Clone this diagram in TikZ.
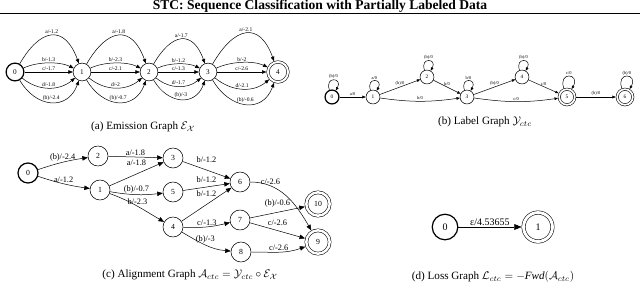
\documentclass[tikz,border=0pt]{standalone}
\usepackage{fontspec}
\setmainfont{Liberation Serif}
\usetikzlibrary{arrows.meta}
\usepackage{amsmath,amssymb}

\begin{document}
\begin{tikzpicture}[
  x=0.9pt, y=-0.9pt,
  vtx/.style={circle, draw, line width=0.5pt, inner sep=0pt, minimum size=#1},
  initv/.style={line width=1.1pt},
  accv/.style={double, line width=0.5pt, double distance=#1, outer sep=0.5*#1+0.5pt},
  arr/.style={-{Triangle[length=#1, width'=0pt 0.8]}, line width=0.45pt},
  lbl/.style={above, inner sep=1pt},
  la/.style={font=\fontsize{5}{6}\selectfont},
  fa/.style={font=\fontsize{6.5}{7}\selectfont},
  lb/.style={font=\fontsize{4}{4.5}\selectfont},
  fb/.style={font=\fontsize{4.8}{5}\selectfont},
  lc/.style={font=\fontsize{7.5}{9}\selectfont},
  fc/.style={font=\fontsize{7}{8}\selectfont},
  fd/.style={font=\fontsize{9}{10}\selectfont},
  captxt/.style={font=\fontsize{10}{12}\selectfont}
]
  \useasboundingbox (0,0) rectangle (640,283);

  % Running title
  \node[font=\bfseries\fontsize{12.2}{14}\selectfont, anchor=base, inner sep=0pt] (title) at (320,9.8) {STC: Sequence Classification with Partially Labeled Data};
  \draw[line width=1pt] (0,13.5) -- (640,13.5);

  % (a) Emission graph
  \node[vtx=16pt, initv, fa] (e0) at (15,72) {0};
  \foreach \i/\x in {1/82,2/149,3/208} {
    \node[vtx=16pt, fa] (e\i) at (\x,72) {\i};
  }
  \node[vtx=18pt, accv=1.8pt, fa] (e4) at (278,72) {4};
  \foreach \s/\t/\wA/\wB/\wC/\wD/\wE in {0/1/-1.2/-1.3/-1.7/-1.8/-2.4, 1/2/-1.8/-2.3/-2.1/-2/-0.7,
      2/3/-1.7/-1.2/-1.3/-1.7/-3, 3/4/-2.1/-2/-2.6/-2.1/-0.6} {
    \draw[arr=4pt] (e\s) to[out=60, in=110, looseness=1.8] node[lbl, la] {a/\wA} (e\t);
    \draw[arr=4pt] (e\s) to[out=25, in=155, looseness=0.8] node[lbl, la] {b/\wB} (e\t);
    \draw[arr=4pt] (e\s) -- node[lbl, la] {c/\wC} (e\t);
    \draw[arr=4pt] (e\s) to[out=-40, in=-140] node[lbl, la] {d/\wD} (e\t);
    \draw[arr=4pt] (e\s) to[out=-60, in=-110, looseness=1.4] node[lbl, la] {(b)/\wE} (e\t);
  }
  \node[captxt] (capa) at (143,127) {(a) Emission Graph $\mathcal{E}_{\mathcal{X}}$};

  % (b) Label graph
  \node[vtx=12.5pt, initv, fb] (l0) at (332,97) {0};
  \foreach \i/\x/\y in {1/373/97, 2/427/77, 3/467/97, 4/522/77} {
    \node[vtx=12.5pt, fb] (l\i) at (\x,\y) {\i};
  }
  \foreach \i/\x in {5/567, 6/625} {
    \node[vtx=14pt, accv=1.6pt, fb] (l\i) at (\x,97) {\i};
  }
  \foreach \i/\w in {0/(b), 1/a, 2/(b), 3/b, 4/(b), 5/c, 6/(b)} {
    \draw[arr=3pt] (l\i) to[out=110, in=60, looseness=6] node[lbl, lb] {\w/0} (l\i);
  }
  \draw[arr=3pt] (l0) -- node[lbl, lb] {a/0} (l1);
  \draw[arr=3pt] (l1) -- node[lbl, lb] {(b)/0} (l2);
  \draw[arr=3pt] (l1) to[out=-8, in=-172] node[lbl, lb] {b/0} (l3);
  \draw[arr=3pt] (l2) -- node[lbl, lb] {b/0} (l3);
  \draw[arr=3pt] (l3) -- node[lbl, lb] {(b)/0} (l4);
  \draw[arr=3pt] (l3) to[out=-8, in=-172] node[lbl, lb] {c/0} (l5);
  \draw[arr=3pt] (l4) -- node[lbl, lb] {c/0} (l5);
  \draw[arr=3pt] (l5) -- node[lbl, lb] {(b)/0} (l6);
  \node[captxt] (capb) at (485,122) {(b) Label Graph $\mathcal{Y}_{ctc}$};

  % (c) Alignment graph
  \node[vtx=18pt, initv, fc] (c0) at (28,173) {0};
  \foreach \i/\x/\y in {1/100/190, 2/98/156, 3/173/158, 4/173/227, 5/173/192,
      6/240/182, 7/240/220, 8/241/252} {
    \node[vtx=18pt, fc] (c\i) at (\x,\y) {\i};
  }
  \foreach \i/\y in {9/242, 10/204} {
    \node[vtx=21pt, accv=2.2pt, fc] (c\i) at (318,\y) {\i};
  }
  \draw[arr=5pt] (c0) to[bend left=5] node[lbl, lc] {(b)/-2.4} (c2);
  \draw[arr=5pt] (c0) to[bend right=5] node[lbl, lc] {a/-1.2} (c1);
  \draw[arr=5pt] (c2) -- node[lbl, lc] {a/-1.8} (c3);
  \draw[arr=5pt] (c1) -- node[lbl, lc, above=6pt] {a/-1.8} (c3);
  \draw[arr=5pt] (c1) to[bend right=8] node[lbl, lc] {(b)/-0.7} (c5);
  \draw[arr=5pt] (c1) to[out=-20, in=150] node[lbl, lc] {b/-2.3} (c4);
  \draw[arr=5pt] (c3) -- node[lbl, lc, above=5pt] {b/-1.2} (c6);
  \draw[arr=5pt] (c5) -- node[lbl, lc, above=3pt] {b/-1.2} (c6);
  \draw[arr=5pt] (c4) -- node[lbl, lc, above=6pt] {b/-1.2} (c6);
  \draw[arr=5pt] (c4) to[bend right=8] node[lbl, lc] {c/-1.3} (c7);
  \draw[arr=5pt] (c4) to[out=-30, in=175] node[lbl, lc] {(b)/-3} (c8);
  \draw[arr=5pt] (c6) to[out=0, in=120] node[lbl, lc, pos=0.25] {c/-2.6} (c9);
  \draw[arr=5pt] (c7) -- node[lbl, lc, above=3pt] {(b)/-0.6} (c10);
  \draw[arr=5pt] (c7) -- node[lbl, lc, above=3pt] {c/-2.6} (c9);
  \draw[arr=5pt] (c8) to[out=0, in=200] node[lbl, lc] {c/-2.6} (c9);
  \node[captxt] (capc) at (190,275) {(c) Alignment Graph $\mathcal{A}_{ctc} = \mathcal{Y}_{ctc} \circ \mathcal{E}_{\mathcal{X}}$};

  % (d) Loss graph
  \node[vtx=23pt, initv, fd] (d0) at (445,227) {0};
  \node[vtx=26pt, accv=2.6pt, fd] (d1) at (538,227) {1};
  \draw[arr=6.5pt] (d0) -- node[lbl, fd] {ε/4.53655} (d1);
  \node[captxt] (capd) at (493,277) {(d) Loss Graph $\mathcal{L}_{ctc} = -\mathit{Fwd}(\mathcal{A}_{ctc})$};
\end{tikzpicture}
\end{document}
